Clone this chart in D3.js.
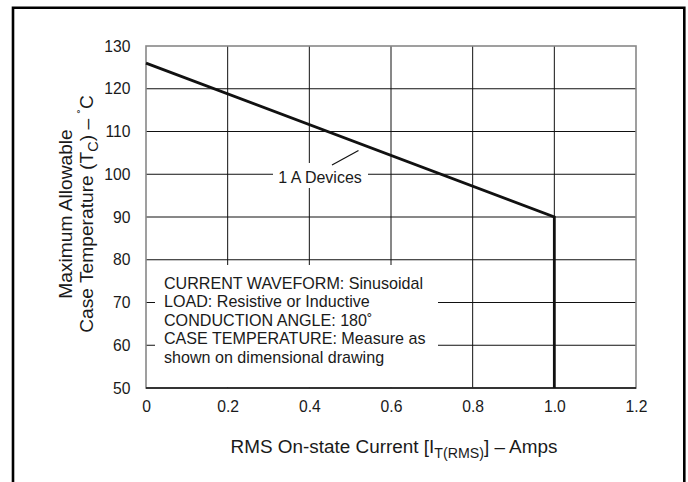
<!DOCTYPE html>
<html>
<head>
<meta charset="utf-8">
<script src="https://cdn.jsdelivr.net/npm/d3@7"></script>
<style>
  html, body { margin: 0; padding: 0; background: #fff; }
  text { font-family: "Liberation Sans", Arial, Helvetica, sans-serif; fill: #1a1a1a; }
</style>
</head>
<body>
<svg id="chart" width="688" height="482"></svg>
<script>
// ---- data ----
const xTicks = [0, 0.2, 0.4, 0.6, 0.8, 1.0, 1.2];
const yTicks = [50, 60, 70, 80, 90, 100, 110, 120, 130];
const curveCurrent = [0, 1.0, 1.0];      // A rms
const curveTemp = [126, 90, 50];         // deg C
const seriesLabel = "1 A Devices";
const noteLines = [
  "CURRENT WAVEFORM: Sinusoidal",
  "LOAD: Resistive or Inductive",
  "CONDUCTION ANGLE: 180\u02DA",
  "CASE TEMPERATURE: Measure as",
  "shown on dimensional drawing"
];

// ---- layout ----
const svg = d3.select("#chart");
const x = d3.scaleLinear().domain([0, 1.2]).range([146, 636]);
const y = d3.scaleLinear().domain([50, 130]).range([388, 46]);
const font = "Liberation Sans, Arial, sans-serif";

// outer frame (open at bottom)
svg.append("path")
  .attr("d", "M13,482 V7.8 H684.3 V482")
  .attr("fill", "none").attr("stroke", "#000").attr("stroke-width", 2.6);

// gridlines
const grid = svg.append("g");
grid.selectAll("line.v").data(xTicks.filter(d => d > 0 && d < 1.2)).join("line")
  .attr("x1", d => x(d)).attr("x2", d => x(d))
  .attr("y1", y(130)).attr("y2", y(50))
  .attr("stroke", "#111").attr("stroke-width", 1);
grid.selectAll("line.h").data(yTicks.filter(d => d > 50 && d < 130)).join("line")
  .attr("x1", x(0)).attr("x2", x(1.2))
  .attr("y1", d => y(d)).attr("y2", d => y(d))
  .attr("stroke", "#111").attr("stroke-width", 1);

// plot border
svg.append("rect")
  .attr("x", x(0)).attr("y", y(130))
  .attr("width", x(1.2) - x(0)).attr("height", y(50) - y(130))
  .attr("fill", "none").attr("stroke", "#888").attr("stroke-width", 1.6);
svg.append("line")
  .attr("x1", x(0)).attr("x2", x(1.2)).attr("y1", y(50)).attr("y2", y(50))
  .attr("stroke", "#111").attr("stroke-width", 1.3);

// note box (white mask over grid)
svg.append("rect")
  .attr("x", 155).attr("y", 265).attr("width", 283).attr("height", y(50) - 265 - 1)
  .attr("fill", "#fff");
const note = svg.append("text").attr("font-size", 16.1);
noteLines.forEach((t, i) => {
  note.append("tspan").attr("x", 164).attr("y", 288.5 + i * 18.6).text(t);
});

// curve
const pts = curveCurrent.map((c, i) => [c, curveTemp[i]]);
svg.append("path")
  .datum(pts)
  .attr("d", d3.line().x(d => x(d[0])).y(d => y(d[1])))
  .attr("fill", "none").attr("stroke", "#111").attr("stroke-width", 2.8)
  .attr("stroke-linejoin", "miter");

// series label with white mask and leader
svg.append("rect").attr("x", 273).attr("y", 163).attr("width", 95).attr("height", 25).attr("fill", "#fff");
svg.append("text").attr("x", 320).attr("y", 183.3).attr("text-anchor", "middle")
  .attr("font-size", 16).text(seriesLabel);
svg.append("line")
  .attr("x1", 332).attr("y1", 165).attr("x2", 358.5).attr("y2", 150.5)
  .attr("stroke", "#111").attr("stroke-width", 1.2);

// axes (tick labels)
const xAxis = d3.axisBottom(x).tickValues(xTicks).tickSize(0).tickPadding(13.2)
  .tickFormat(d => d === 0 ? "0" : d3.format(".1f")(d));
const gx = svg.append("g").attr("transform", `translate(0,${y(50)})`).call(xAxis);
const yAxis = d3.axisLeft(y).tickValues(yTicks).tickSize(0).tickPadding(15.5)
  .tickFormat(d3.format("d"));
const gy = svg.append("g").attr("transform", `translate(${x(0)},0)`).call(yAxis);
[gx, gy].forEach(g => {
  g.select(".domain").remove();
  g.selectAll("text").attr("font-family", font).attr("font-size", 15.7).attr("fill", "#1a1a1a");
});

// x title
const xt = svg.append("text").attr("x", 394).attr("y", 453).attr("text-anchor", "middle")
  .attr("font-size", 18.9);
xt.append("tspan").text("RMS On-state Current [I");
xt.append("tspan").attr("font-size", 14.2).attr("dy", 5).text("T(RMS)");
xt.append("tspan").attr("dy", -5).text("] \u2013 Amps");

// y title
const yt = svg.append("g").attr("transform", "translate(0,214) rotate(-90)");
yt.append("text").attr("x", 0).attr("y", 72).attr("text-anchor", "middle")
  .attr("font-size", 19.2).text("Maximum Allowable");
const y2 = yt.append("text").attr("x", 0).attr("y", 93).attr("text-anchor", "middle")
  .attr("font-size", 19.2);
y2.append("tspan").text("Case Temperature (T");
y2.append("tspan").attr("font-size", 14.5).attr("dy", 5).text("C");
y2.append("tspan").attr("dy", -5).text(") \u2013 ");
y2.append("tspan").attr("font-size", 13.5).attr("dy", -6).text("\u02DA");
y2.append("tspan").attr("dy", 6).text("C");
</script>
</body>
</html>
